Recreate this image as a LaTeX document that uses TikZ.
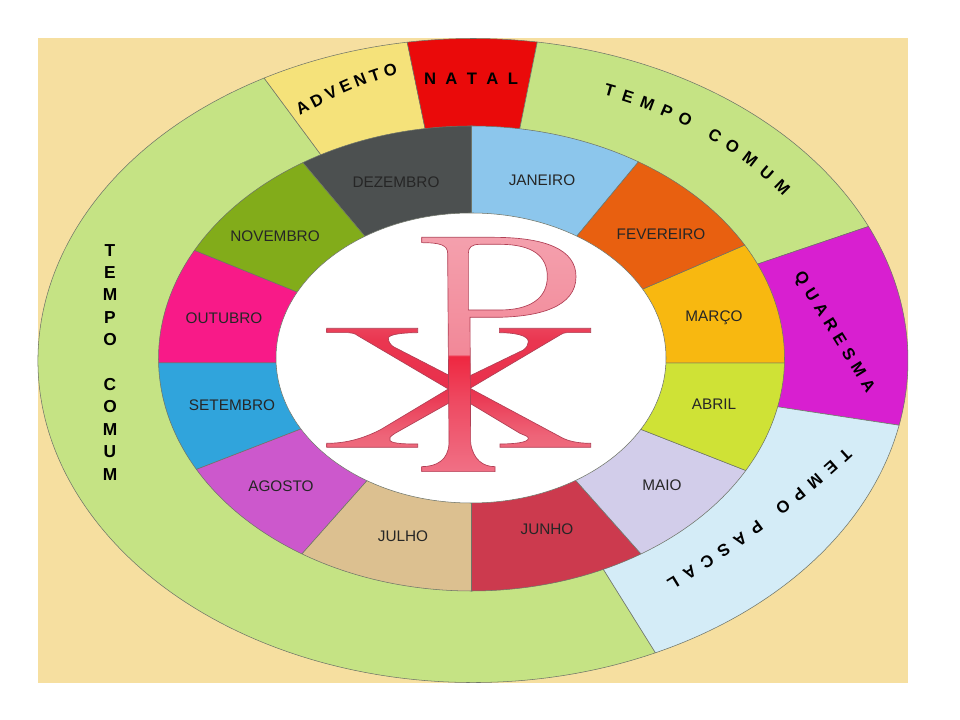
\documentclass[tikz,border=0pt]{standalone}
\usepackage{fontspec}
\setmainfont{Liberation Sans}
\usetikzlibrary{decorations.text}
\definecolor{bgc}{HTML}{F6DFA0}
\definecolor{greenc}{HTML}{C5E384}
\definecolor{advc}{HTML}{F5E27A}
\definecolor{natc}{HTML}{EA0A0A}
\definecolor{quac}{HTML}{D81FD0}
\definecolor{pasc}{HTML}{D4ECF7}
\definecolor{janc}{HTML}{8CC6EC}
\definecolor{fevc}{HTML}{E86010}
\definecolor{marc}{HTML}{F8B810}
\definecolor{abrc}{HTML}{CFE236}
\definecolor{maic}{HTML}{D2CDEA}
\definecolor{junc}{HTML}{CC3A4E}
\definecolor{julc}{HTML}{DCC090}
\definecolor{agoc}{HTML}{CC58CC}
\definecolor{setc}{HTML}{30A4DC}
\definecolor{outc}{HTML}{F81A88}
\definecolor{novc}{HTML}{82AC1A}
\definecolor{dezc}{HTML}{4C5050}
\definecolor{edgec}{HTML}{6E7468}
\definecolor{glyphedge}{HTML}{B04055}
\definecolor{pa}{HTML}{F58F9E}
\definecolor{pb}{HTML}{F07085}
\definecolor{pc}{HTML}{EE4A62}
\definecolor{pd}{HTML}{EE2740}
\definecolor{pe}{HTML}{F28898}
\definecolor{pf}{HTML}{F4A0AD}
\definecolor{pg}{HTML}{F5A8B3}
\definecolor{xa}{HTML}{F28595}
\definecolor{xb}{HTML}{EE6478}
\definecolor{xc}{HTML}{E9304C}
\definecolor{xd}{HTML}{EA3650}
\definecolor{xe}{HTML}{F07F90}
\pgfdeclareverticalshading{rhoshade}{100bp}{color(0bp)=(pa); color(25bp)=(pb); color(40bp)=(pc); color(49.7bp)=(pd); color(50bp)=(pe); color(75bp)=(pf); color(100bp)=(pg)}
\pgfdeclareverticalshading{chishade}{100bp}{color(0bp)=(xa); color(30bp)=(xb); color(50bp)=(xc); color(70bp)=(xd); color(100bp)=(xe)}
\newcommand{\ringsec}[3]{\filldraw[sector,fill=#1] (0,0) -- (#2:435 and 322) arc[start angle=#2,end angle=#3,x radius=435,y radius=322] -- cycle;}
\newcommand{\monthsec}[3]{\filldraw[sector,fill=#1] (0,-4.5) -- (#2:313 and 232.5) arc[start angle=#2,end angle=#3,x radius=313,y radius=232.5] -- cycle;}
\newcommand{\ringfont}{\fontsize{12.5pt}{12.5pt}\selectfont\bfseries}
\tikzset{
  sector/.style={draw=edgec,line width=0.4pt},
  monthlabel/.style={font=\fontsize{11.5pt}{11.5pt}\selectfont,text=black!85,inner sep=0pt},
  ringtext/.style={decorate,decoration={text along path,text align={fit to path},text={|\ringfont|#1}}},
  glyph/.style={draw=glyphedge,line width=0.5pt,even odd rule}
}
\begin{document}
\begin{tikzpicture}[x=0.75pt,y=0.75pt]
\useasboundingbox (0,0) rectangle (960,720);
\fill[white] (0,0) rectangle (960,720);
\fill[bgc] (38,37) rectangle (908,682);
% outer ring
\begin{scope}[shift={(473,359.5)}]
  \ringsec{greenc}{118.7}{294.8}
  \ringsec{advc}{98.7}{118.7}
  \ringsec{natc}{81.5}{98.7}
  \ringsec{greenc}{24.6}{81.5}
  \ringsec{quac}{-11.6}{24.6}
  \ringsec{pasc}{-65.2}{-11.6}
\end{scope}
% month ring
\begin{scope}[shift={(471.5,361.5)}]
  \monthsec{dezc}{90}{122.6}
  \monthsec{novc}{122.6}{152.3}
  \monthsec{outc}{152.3}{181.1}
  \monthsec{setc}{181.1}{208.5}
  \monthsec{agoc}{208.5}{237.2}
  \monthsec{julc}{237.2}{270}
  \monthsec{junc}{270}{302.8}
  \monthsec{maic}{302.8}{331.2}
  \monthsec{abrc}{331.2}{358.9}
  \monthsec{marc}{-1.1}{29.2}
  \monthsec{fevc}{29.2}{57.8}
  \monthsec{janc}{57.8}{90}
\end{scope}
\filldraw[fill=white,draw=edgec,line width=0.4pt] (471,362) ellipse[x radius=195,y radius=145];
% Chi-Rho
\begin{scope}[shift={(210pt,382.5pt)},x=0.25pt,y=-0.25pt]
  \path[glyph,shade,shading=chishade]
    (140,355) -- (413,355) -- (413,368) .. controls (375,368) and (325,372) .. (325,385)
    .. controls (325,395) and (332,405) .. (340,410) -- (505,495) -- (540,515) -- (575,495) -- (730,420)
    .. controls (740,412) and (745,405) .. (745,395) .. controls (745,375) and (700,368) .. (658,368)
    -- (658,355) -- (932,355) -- (932,368) -- (860,368) .. controls (852,368) and (848,370) .. (840,375)
    -- (570,535) -- (840,680) .. controls (860,692) and (890,700) .. (932,700) -- (932,712) -- (660,712) -- (660,702)
    .. controls (700,702) and (745,698) .. (745,685) .. controls (745,678) and (730,675) .. (720,670)
    -- (570,580) -- (540,560) -- (505,580) -- (345,670) .. controls (330,680) and (325,685) .. (330,692)
    .. controls (340,702) and (380,702) .. (413,702) -- (413,712) -- (140,712) -- (140,700)
    .. controls (190,700) and (240,690) .. (300,660) -- (505,537) -- (235,378) .. controls (225,370) and (215,368) .. (205,368)
    -- (140,368) -- cycle;
  \path[glyph,shade,shading=rhoshade]
    (425,82) -- (640,82) .. controls (800,82) and (888,120) .. (888,200)
    .. controls (888,290) and (780,322) .. (640,322) -- (570,322) -- (572,700)
    .. controls (580,750) and (610,770) .. (645,770) -- (645,785) -- (425,785) -- (425,770)
    .. controls (470,770) and (505,750) .. (507,700) -- (503,130) .. controls (503,105) and (480,98) .. (425,98) -- cycle
    (565,130) .. controls (565,112) and (575,103) .. (600,103) -- (660,103)
    .. controls (760,103) and (802,140) .. (802,200) .. controls (802,265) and (750,300) .. (660,300)
    -- (565,300) -- cycle;
\end{scope}
% month labels
\node[monthlabel] (jan) at (542,540) {JANEIRO};
\node[monthlabel] (fev) at (661,486) {FEVEREIRO};
\node[monthlabel] (mar) at (714,402) {MARÇO};
\node[monthlabel] (abr) at (714,316) {ABRIL};
\node[monthlabel] (mai) at (662,235) {MAIO};
\node[monthlabel] (jun) at (547,191) {JUNHO};
\node[monthlabel] (jul) at (403,184) {JULHO};
\node[monthlabel] (ago) at (281,234) {AGOSTO};
\node[monthlabel] (set) at (232,315) {SETEMBRO};
\node[monthlabel] (out) at (224,402) {OUTUBRO};
\node[monthlabel] (nov) at (275,484) {NOVEMBRO};
\node[monthlabel] (dez) at (396,538) {DEZEMBRO};
% season labels
\node[font=\fontsize{13pt}{16.8pt}\selectfont\bfseries,align=center,inner sep=0pt,anchor=north] (comumleft) at (110,476)
  {T\\E\\M\\P\\O\\[16.8pt]C\\O\\M\\U\\M};
\path[ringtext=NATAL] (424,635) -- (518,635);
\path[ringtext=ADVENTO] (300,604) .. controls (328,620) and (360,636) .. (398,646);
\begin{scope}[shift={(473,360)}]
  \path[ringtext={TEMPO COMUM}] (70:381 and 282) arc[start angle=70,end angle=35.5,x radius=381,y radius=282];
\end{scope}
\path[ringtext=QUARESMA] (794,444) -- (867,326);
\path[ringtext={TEMPO PASCAL}] (845,273) .. controls (791,223) and (731,178) .. (666,139);
\end{tikzpicture}
\end{document}
